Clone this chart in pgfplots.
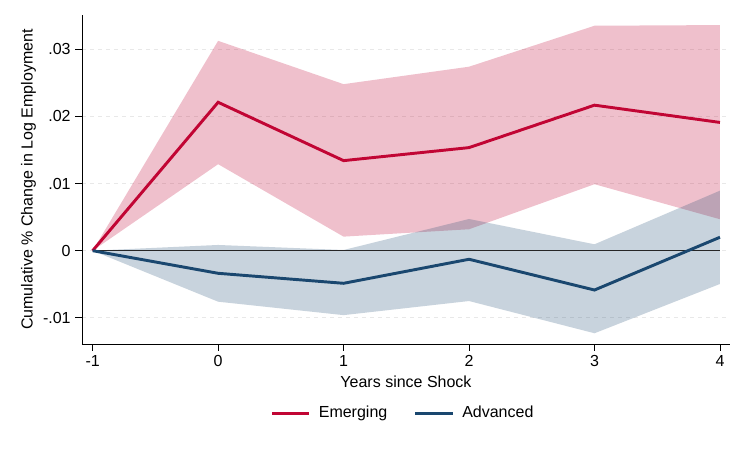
\documentclass[border=0pt]{standalone}
\usepackage{fontspec}
\setmainfont{Liberation Sans}
\usepackage{pgfplots}
\pgfplotsset{compat=1.18}
\definecolor{cran}{HTML}{C10534}
\definecolor{navy}{HTML}{1A476F}
\begin{document}
\begin{tikzpicture}
\begin{axis}[
  scale only axis, width=486pt, height=246.75pt,
  xmin=-1.085, xmax=4.08, ymin=-0.0139, ymax=0.0351,
  axis x line=bottom, axis y line=left,
  axis line style={-, black, line width=0.6pt},
  xtick={-1,0,1,2,3,4},
  ytick={-0.01,0,0.01,0.02,0.03},
  yticklabels={-.01,0,.01,.02,.03},
  scaled y ticks=false,
  tick align=outside, tick style={black, line width=0.6pt},
  major tick length=5pt,
  ymajorgrids, grid style={dashed, color=black!9, line width=0.6pt},
  /pgf/number format/assume math mode=true,
  tick label style={font=\fontsize{12}{14}\selectfont},
  label style={font=\fontsize{12}{14}\selectfont},
  xlabel={Years since Shock},
  ylabel={Cumulative \% Change in Log Employment},
  xlabel style={at={(axis description cs:0.5,0)}, anchor=north, yshift=-20.5pt},
  ylabel style={at={(axis description cs:0,0.5)}, anchor=south, yshift=31pt},
  legend style={at={(axis description cs:0.5,-0.21)}, anchor=center, draw=none,
    legend columns=2, font=\fontsize{12}{14}\selectfont,
    /tikz/every even column/.append style={column sep=14pt},
    nodes={inner xsep=6pt}},
  legend image code/.code={\draw[#1] (0pt,0pt) -- (28pt,0pt);},
  clip=false,
]
% Emerging band
\addplot[fill=cran, fill opacity=0.25, draw=none, forget plot] coordinates {
  (-1,0) (0,0.03125) (1,0.0248) (2,0.0274) (3,0.0335) (4,0.0336)
  (4,0.00468) (3,0.0099) (2,0.00319) (1,0.00209) (0,0.01288) (-1,0)
} -- cycle;
% Advanced band
\addplot[fill=navy, fill opacity=0.24, draw=none, forget plot] coordinates {
  (-1,0) (0,0.00085) (1,0.0001) (2,0.00472) (3,0.00095) (4,0.00894)
  (4,-0.00496) (3,-0.0123) (2,-0.0075) (1,-0.0096) (0,-0.0076) (-1,0)
} -- cycle;
% zero line
\addplot[black!85, line width=0.7pt, forget plot] coordinates {(-1,0) (4,0)};
\addplot[cran, line width=2.2pt] coordinates {
  (-1,0) (0,0.0221) (1,0.01341) (2,0.01535) (3,0.02167) (4,0.0191)
};
\addlegendentry{Emerging}
\addplot[navy, line width=2.2pt] coordinates {
  (-1,0) (0,-0.00337) (1,-0.00486) (2,-0.00128) (3,-0.00586) (4,0.0020)
};
\addlegendentry{Advanced}
\end{axis}
\path (current axis.south west) ++(-61.5pt,-79.5pt) coordinate (bl);
\path (current axis.north east) ++(12pt,11.25pt) coordinate (tr);
\path[use as bounding box] (bl) rectangle (tr);
\end{tikzpicture}
\end{document}
